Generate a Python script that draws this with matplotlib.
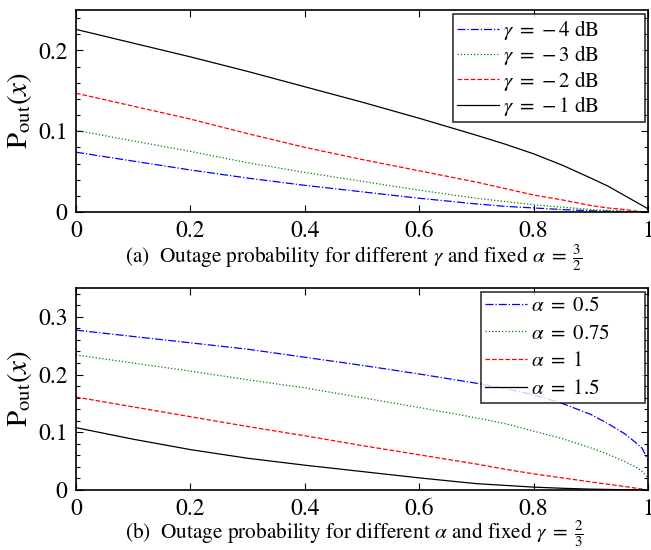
import matplotlib
matplotlib.use("Agg")
import matplotlib.pyplot as plt
from matplotlib.ticker import MultipleLocator, FuncFormatter

plt.rcParams['font.family'] = ['STIXGeneral', 'DejaVu Sans']
plt.rcParams['mathtext.fontset'] = 'stix'

# ---- data ----
x_vals = [0.0, 0.1, 0.2, 0.3, 0.4, 0.5, 0.6, 0.7, 0.75, 0.8, 0.85, 0.9, 0.93, 0.96, 0.98, 0.99, 1.0]

# (a) different gamma, alpha = 3/2
gamma_labels = [r"$\gamma\ =\ {-}\,4\ \mathrm{dB}$", r"$\gamma\ =\ {-}\,3\ \mathrm{dB}$",
                r"$\gamma\ =\ {-}\,2\ \mathrm{dB}$", r"$\gamma\ =\ {-}\,1\ \mathrm{dB}$"]
pa_m4 = [0.074, 0.063, 0.052, 0.042, 0.033, 0.025, 0.017, 0.010, 0.007, 0.005, 0.003, 0.0015, 0.001, 0.0005, 0.0002, 0.0001, 0.0]
pa_m3 = [0.101, 0.088, 0.075, 0.061, 0.049, 0.038, 0.027, 0.017, 0.013, 0.009, 0.006, 0.003, 0.002, 0.001, 0.0004, 0.0002, 0.0]
pa_m2 = [0.147, 0.131, 0.115, 0.097, 0.080, 0.065, 0.051, 0.037, 0.029, 0.021, 0.015, 0.008, 0.005, 0.003, 0.001, 0.0005, 0.0]
pa_m1 = [0.226, 0.209, 0.192, 0.174, 0.155, 0.136, 0.116, 0.095, 0.084, 0.072, 0.058, 0.042, 0.032, 0.020, 0.012, 0.008, 0.004]

# (b) different alpha, gamma = 2/3
alpha_labels = [r"$\alpha\ =\ 0.5$", r"$\alpha\ =\ 0.75$", r"$\alpha\ =\ 1$", r"$\alpha\ =\ 1.5$"]
pb_05 = [0.277, 0.266, 0.255, 0.244, 0.230, 0.216, 0.201, 0.185, 0.176, 0.165, 0.150, 0.131, 0.115, 0.097, 0.081, 0.072, 0.052]
pb_075 = [0.234, 0.220, 0.206, 0.191, 0.177, 0.160, 0.143, 0.125, 0.115, 0.102, 0.089, 0.073, 0.062, 0.049, 0.039, 0.032, 0.021]
pb_1 = [0.161, 0.144, 0.127, 0.110, 0.094, 0.077, 0.061, 0.045, 0.036, 0.028, 0.021, 0.014, 0.010, 0.006, 0.003, 0.0015, 0.0]
pb_15 = [0.108, 0.088, 0.070, 0.055, 0.043, 0.032, 0.021, 0.011, 0.008, 0.005, 0.003, 0.0015, 0.001, 0.0005, 0.0002, 0.0001, 0.0]

styles = [dict(color=(0, 0, 1), ls='-.'),
          dict(color=(0, 0.5, 0), ls=':'),
          dict(color=(1, 0, 0), ls='--'),
          dict(color='black', ls='-')]

fig = plt.figure(figsize=(6.51, 5.5), dpi=100)
W, H = 651, 550
AX_L, AX_R, AX_H = 76, 648, 202

def make_ax(top_px, ymax, series, labels, caption, cap_y_px, lspace, leg_px):
    bottom = top_px + AX_H
    ax = fig.add_axes([AX_L / W, 1 - bottom / H, (AX_R - AX_L) / W, AX_H / H])
    for s, lab, st in zip(series, labels, styles):
        ax.plot(x_vals, s, lw=0.9, label=lab, **st)
    ax.set_xlim(0, 1)
    ax.set_ylim(0, ymax)
    ax.xaxis.set_major_locator(MultipleLocator(0.2))
    ax.yaxis.set_major_locator(MultipleLocator(0.1))
    ax.yaxis.set_minor_locator(MultipleLocator(0.02))
    fmt = FuncFormatter(lambda v, p: ("%g" % round(v, 3)))
    ax.xaxis.set_major_formatter(fmt)
    ax.yaxis.set_major_formatter(fmt)
    ax.tick_params(which='both', direction='in', top=True, right=True, labelsize=17)
    ax.tick_params(which='major', length=5, width=0.8, pad=6)
    ax.tick_params(which='minor', length=3, width=0.8)
    for sp in ax.spines.values():
        sp.set_linewidth(1.2)
    ax.set_ylabel(r"$\mathrm{P}_{\mathrm{out}}(x)$", fontsize=21, labelpad=3)
    # legend frame position (pixels) -> axes fraction
    lx0, lx1, ly0 = leg_px
    bx0 = (lx0 - AX_L) / (AX_R - AX_L)
    bw = (lx1 - lx0) / (AX_R - AX_L)
    by1 = (bottom - ly0) / AX_H
    leg = ax.legend(loc='upper right', bbox_to_anchor=(bx0, 0.0, bw, by1), mode='expand',
                    fontsize=15, fancybox=False, frameon=True,
                    borderaxespad=0.0, handlelength=2.0, handletextpad=0.2,
                    borderpad=0.2, labelspacing=lspace)
    leg.get_frame().set_edgecolor('black')
    leg.get_frame().set_linewidth(1.2)
    fig.text(354 / W, 1 - cap_y_px / H, caption, ha='center', va='center', fontsize=15.3)
    return ax

make_ax(10, 0.25, [pa_m4, pa_m3, pa_m2, pa_m1], gamma_labels,
        r"(a)  Outage probability for different $\gamma$ and fixed $\alpha\;=\;\frac{3}{2}$", 258,
        0.06, (453, 645, 14))
make_ax(288, 0.35, [pb_05, pb_075, pb_1, pb_15], alpha_labels,
        r"(b)  Outage probability for different $\alpha$ and fixed $\gamma\;=\;\frac{2}{3}$", 534,
        0.38, (481, 645, 292))

fig.savefig("out.png", dpi=100)
